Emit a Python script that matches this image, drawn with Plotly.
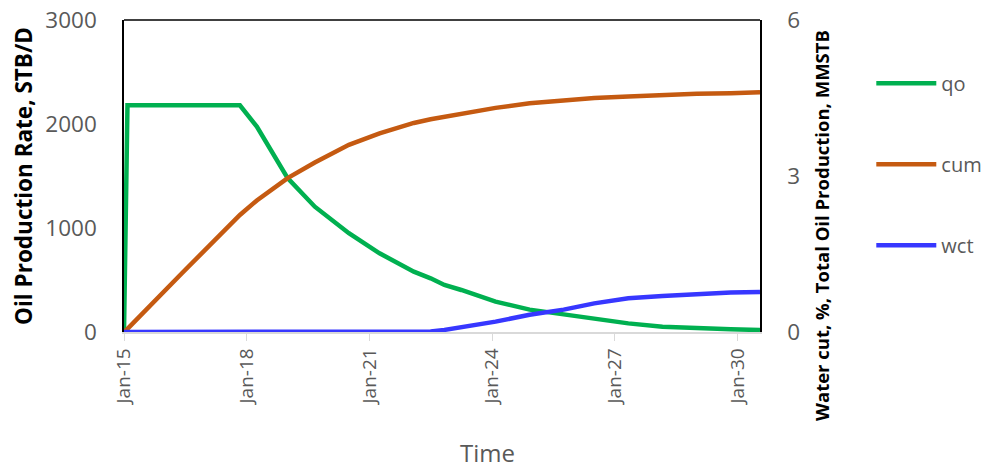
import plotly.graph_objects as go

dates = ["2015-01-01", "2015-02-01", "2016-06-01", "2017-11-01", "2018-04-01",
         "2019-01-01", "2019-09-01", "2020-07-01", "2021-04-01", "2022-02-01",
         "2022-07-01", "2022-11-01", "2023-04-01", "2024-02-01", "2024-12-01",
         "2025-10-01", "2026-07-01", "2027-05-01", "2028-03-01", "2029-01-01",
         "2029-11-01", "2030-07-20"]
qo = [0, 2180, 2180, 2180, 1975, 1480, 1205, 950, 757, 580, 516, 452, 404,
      292, 215, 172, 131, 83, 51, 35, 26, 19]
cum = [0, 0.06, 1.13, 2.25, 2.53, 2.96, 3.26, 3.60, 3.82, 4.02, 4.09, 4.14,
       4.19, 4.31, 4.40, 4.46, 4.50, 4.53, 4.56, 4.58, 4.59, 4.61]
wct = [0, 0, 0, 0, 0, 0, 0, 0, 0, 0, 0.01, 0.04, 0.09, 0.20, 0.33, 0.43,
       0.55, 0.65, 0.69, 0.73, 0.76, 0.77]

y_left_ticks = [0, 1000, 2000, 3000]
y_right_ticks = [0, 3, 6]

GRAY = "#595959"
FONT = "Open Sans"

fig = go.Figure()
fig.add_trace(go.Scatter(x=dates, y=qo, name="qo", mode="lines",
                         line=dict(color="#00B050", width=4.5), legendgroup="a"))
fig.add_trace(go.Scatter(x=dates, y=cum, name="cum", mode="lines", yaxis="y2",
                         line=dict(color="#C55A11", width=4.5), legendgroup="b"))
fig.add_trace(go.Scatter(x=dates, y=wct, name="wct", mode="lines", yaxis="y2",
                         line=dict(color="#3737FF", width=4.5), legendgroup="c"))

fig.update_layout(
    width=995, height=470,
    margin=dict(l=124, r=235, t=20, b=138, autoexpand=False),
    paper_bgcolor="white", plot_bgcolor="white",
    font=dict(family=FONT, color=GRAY),
    xaxis=dict(
        type="date", range=["2015-01-01", "2030-07-20"], automargin=False,
        tick0="2015-01-01", dtick="M36", tickformat="%b-%y", tickangle=-90,
        tickfont=dict(size=19, color=GRAY),
        showgrid=False, zeroline=False,
        showline=True, linecolor="#D9D9D9", linewidth=1.5,
        ticks="outside", ticklen=7, tickcolor="#D9D9D9",
    ),
    yaxis=dict(
        range=[0, 3000], tickvals=y_left_ticks, automargin=False,
        tickfont=dict(size=22.5, color=GRAY),
        showgrid=False, zeroline=False,
        showline=True, linecolor="black", linewidth=1.5,
        ticks="outside", ticklen=21, tickcolor="rgba(0,0,0,0)",
        title=dict(text="<b>Oil Production Rate, STB/D</b>",
                   font=dict(size=22.5, color="black"), standoff=6),
    ),
    yaxis2=dict(
        overlaying="y", side="right", automargin=False,
        range=[0, 6], tickvals=y_right_ticks,
        tickfont=dict(size=22.5, color=GRAY),
        showgrid=False, zeroline=False,
        showline=True, linecolor="black", linewidth=1.5,
        ticks="outside", ticklen=21, tickcolor="rgba(0,0,0,0)",
    ),
    legend=dict(
        x=1.175, y=0.86, xanchor="left", yanchor="top",
        font=dict(size=20, color=GRAY),
        tracegroupgap=52, itemwidth=60,
        bgcolor="rgba(0,0,0,0)",
    ),
    showlegend=True,
    shapes=[dict(type="line", xref="paper", yref="paper", x0=0, x1=1, y0=1, y1=1,
                 line=dict(color="black", width=1.5))],
    annotations=[
        dict(text="<b>Water cut, %, Total Oil Production, MMSTB</b>",
             xref="paper", yref="paper", x=1.0975, y=0.34,
             xanchor="center", yanchor="middle", textangle=-90,
             showarrow=False, font=dict(size=18.5, color="black")),
        dict(text="Time", xref="paper", yref="paper", x=0.572, y=-0.385,
             xanchor="center", yanchor="middle", showarrow=False,
             font=dict(size=24, color=GRAY)),
    ],
)

fig.write_html("out.html",
               config={"displayModeBar": False},
               post_script="document.body.style.margin='0';")
